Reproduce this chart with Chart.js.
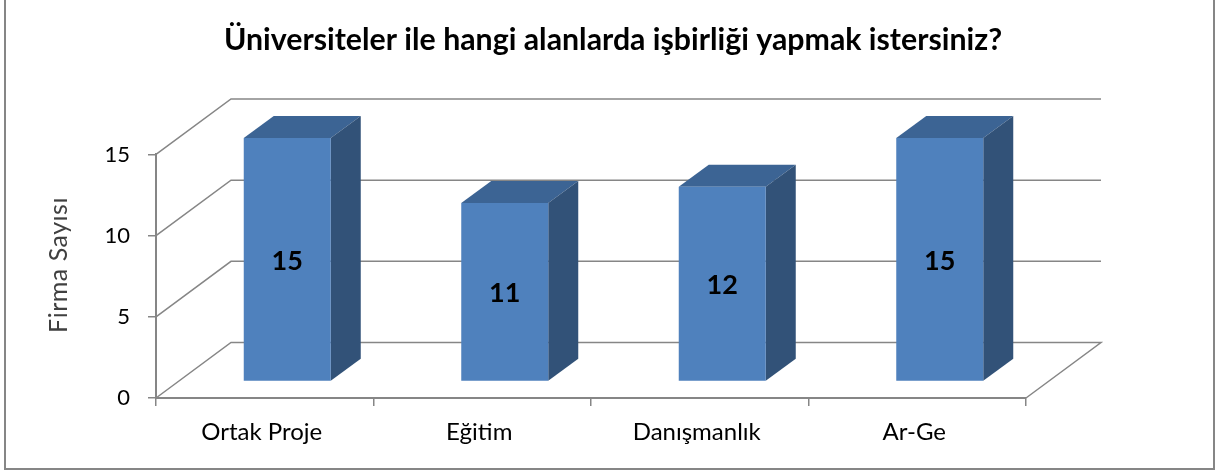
<!DOCTYPE html>
<html><head><meta charset="utf-8">
<style>html,body{margin:0;padding:0;background:#fff}#w{position:relative;width:1216px;height:470px}</style>
<script src="https://cdn.jsdelivr.net/npm/chart.js@4"></script>
</head><body><div id="w"><canvas id="c" width="1216" height="470"></canvas></div>
<script>
const categories = ['Ortak Proje','Eğitim','Danışmanlık','Ar-Ge'];
const firmCounts = [15,11,12,15];
const yTicks = [0,5,10,15];
const chartTitle = 'Üniversiteler ile hangi alanlarda işbirliği yapmak istersiniz?';
const yTitle = 'Firma Sayısı';
const FONT = 'Lato, Carlito, Calibri, sans-serif';
const GRID = '#868686';
const WALL_DX = 75, WALL_DY = -55.5;   // projection of the floor depth
const BAR_SHIFT_X = 22.5, BAR_SHIFT_Y = -16.5;
const BAR_DX = 30, BAR_DY = -22;

const frame = {id:'frame', beforeDraw(ch){
  const c=ch.ctx; c.save(); c.fillStyle='#fff'; c.fillRect(0,0,1216,470);
  c.strokeStyle=GRID; c.lineWidth=2;
  c.beginPath(); c.moveTo(5,0); c.lineTo(5,469); c.lineTo(1214,469); c.lineTo(1214,0); c.stroke();
  c.restore();
}};
const depth = {id:'depth',
  beforeDatasetsDraw(ch){
    const c=ch.ctx, y=ch.scales.y, a=ch.chartArea;
    c.save(); c.strokeStyle=GRID; c.lineWidth=1.5;
    yTicks.forEach(v=>{
      const p=y.getPixelForValue(v);
      c.beginPath(); c.moveTo(a.left,p); c.lineTo(a.left+WALL_DX,p+WALL_DY);
      c.lineTo(a.right+WALL_DX,p+WALL_DY);
      if(v===0) c.lineTo(a.right,p);
      c.stroke();
    });
    c.restore();
    c.save(); c.translate(BAR_SHIFT_X,BAR_SHIFT_Y);
    ch.getDatasetMeta(0).data.forEach(b=>{
      const l=b.x-b.width/2, r=b.x+b.width/2, t=b.y, bt=b.base;
      c.fillStyle='#3C6494';
      c.beginPath(); c.moveTo(l,t); c.lineTo(l+BAR_DX,t+BAR_DY); c.lineTo(r+BAR_DX,t+BAR_DY); c.lineTo(r,t); c.closePath(); c.fill();
      c.fillStyle='#325278';
      c.beginPath(); c.moveTo(r,t); c.lineTo(r+BAR_DX,t+BAR_DY); c.lineTo(r+BAR_DX,bt+BAR_DY); c.lineTo(r,bt); c.closePath(); c.fill();
    });
  },
  afterDatasetsDraw(ch){
    const c=ch.ctx;
    c.restore();
    c.save(); c.fillStyle='#000'; c.font='bold 27px '+FONT; c.textAlign='center'; c.textBaseline='middle';
    ch.getDatasetMeta(0).data.forEach((b,i)=>{
      c.fillText(String(firmCounts[i]), b.x+BAR_SHIFT_X, (b.y+b.base)/2+BAR_SHIFT_Y+1.5);
    });
    c.restore();
    c.save(); c.translate(67,265); c.rotate(-Math.PI/2);
    c.fillStyle='#404040'; c.font='25px '+FONT; c.letterSpacing='0.5px'; c.textAlign='center'; c.textBaseline='alphabetic';
    c.fillText(yTitle,0,0);
    c.restore();
  }
};
new Chart(document.getElementById('c'),{
  type:'bar',
  data:{labels:categories,datasets:[{data:firmCounts,backgroundColor:'#4F81BD',borderWidth:0,clip:false,barPercentage:0.4,categoryPercentage:1}]},
  plugins:[frame,depth],
  options:{
    responsive:false,animation:false,events:[],
    layout:{padding:{left:10,right:0,top:0,bottom:0}},
    plugins:{
      legend:{display:false},tooltip:{enabled:false},
      title:{display:true,text:chartTitle,color:'#000',font:{family:FONT,size:30.3,weight:'bold'},padding:{top:22,bottom:96.1}}
    },
    scales:{
      x:{
        grid:{drawOnChartArea:false,color:GRID,lineWidth:1.5,tickLength:8},
        border:{color:GRID,width:2},
        ticks:{color:'#000',font:{family:FONT,size:24},padding:12,labelOffset:-3,maxRotation:0},
        afterFit(s){s.height=72;}
      },
      y:{
        min:0,max:15,
        grid:{drawOnChartArea:false,color:GRID,lineWidth:1.5,tickLength:8},
        border:{color:GRID,width:2},
        ticks:{stepSize:5,color:'#000',font:{family:FONT,size:22},padding:18},
        afterFit(s){s.width=146;}
      },
      spacer:{
        position:'right',display:true,
        grid:{display:false},border:{display:false},ticks:{display:false},
        afterFit(s){s.width=190;}
      }
    }
  }
});
</script></body></html>
